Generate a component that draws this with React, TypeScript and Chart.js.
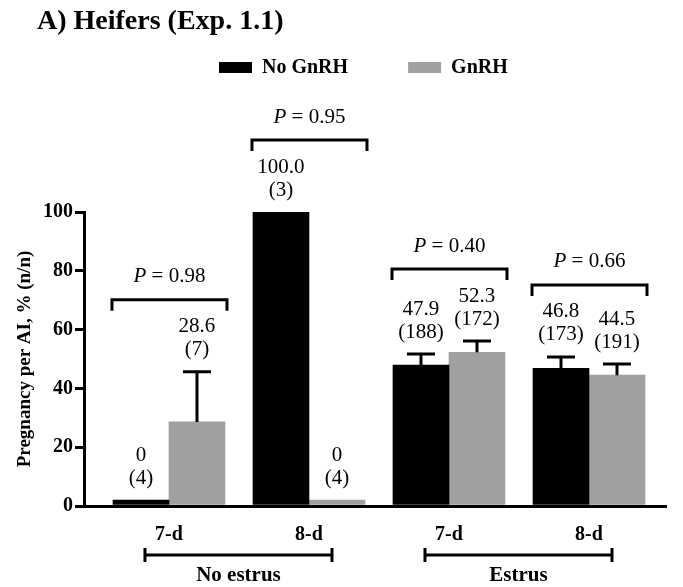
import React, { useEffect, useRef } from 'react';
import { Chart, registerables } from 'chart.js';

Chart.register(...registerables);

const TITLE = 'A) Heifers (Exp. 1.1)';
const Y_TITLE = 'Pregnancy per AI, % (n/n)';
const CATEGORIES = ['7-d', '8-d', '7-d', '8-d'];
const GROUPS = ['No estrus', 'Estrus'];
const GROUP_RANGES = [[0, 1], [2, 3]];
const SERIES = ['No GnRH', 'GnRH'];
const NO_GNRH = [0, 100, 47.9, 46.8];
const GNRH = [28.6, 0, 52.3, 44.5];
const NO_GNRH_SE = [0, 0, 3.8, 3.9];
const GNRH_SE = [17.1, 0, 3.8, 3.8];
const NO_GNRH_N = [4, 3, 188, 173];
const GNRH_N = [7, 4, 172, 191];
const P_VALUES = ['0.98', '0.95', '0.40', '0.66'];
const Y_TICKS = [0, 20, 40, 60, 80, 100];

const COLORS = ['#000000', '#a0a0a0'];
const SERIF = '"Liberation Serif", "Times New Roman", serif';

const annotPlugin = {
  id: 'annot',
  afterDatasetsDraw(chart: any) {
    const ctx = chart.ctx;
    const ys = chart.scales.y;
    const xs = chart.scales.x;
    const vals = [NO_GNRH, GNRH];
    const errs = [NO_GNRH_SE, GNRH_SE];
    const ns = [NO_GNRH_N, GNRH_N];
    const tops: number[][] = [[], []];
    ctx.save();
    ctx.strokeStyle = '#000';
    ctx.fillStyle = '#000';
    ctx.lineWidth = 3;
    ctx.lineCap = 'butt';
    ctx.lineJoin = 'miter';
    // error bars + value labels
    for (let di = 0; di < 2; di++) {
      const meta = chart.getDatasetMeta(di);
      meta.data.forEach((el: any, i: number) => {
        const v = vals[di][i];
        const e = errs[di][i];
        let top = el.y;
        if (e > 0) {
          const ey = ys.getPixelForValue(v + e);
          ctx.beginPath();
          ctx.moveTo(el.x, el.y);
          ctx.lineTo(el.x, ey);
          ctx.moveTo(el.x - el.width / 4, ey);
          ctx.lineTo(el.x + el.width / 4, ey);
          ctx.stroke();
          top = ey;
        }
        tops[di][i] = top;
        ctx.font = `21px ${SERIF}`;
        ctx.textAlign = 'center';
        ctx.textBaseline = 'middle';
        ctx.fillText(v === 0 ? '0' : v.toFixed(1), el.x, top - 45);
        ctx.fillText(`(${ns[di][i]})`, el.x, top - 22);
      });
    }
    // P-value brackets
    const m0 = chart.getDatasetMeta(0);
    const m1 = chart.getDatasetMeta(1);
    P_VALUES.forEach((p, i) => {
      const a = m0.data[i];
      const b = m1.data[i];
      const left = a.x - a.width / 2 - 1;
      const right = b.x + b.width / 2 + 2;
      const by = Math.min(tops[0][i], tops[1][i]) - 72;
      ctx.beginPath();
      ctx.moveTo(left, by + 11);
      ctx.lineTo(left, by);
      ctx.lineTo(right, by);
      ctx.lineTo(right, by + 11);
      ctx.stroke();
      const cx = (left + right) / 2;
      ctx.textBaseline = 'middle';
      ctx.textAlign = 'left';
      ctx.font = `italic 21px ${SERIF}`;
      const wP = ctx.measureText('P').width;
      ctx.font = `21px ${SERIF}`;
      const rest = ` = ${p}`;
      const wR = ctx.measureText(rest).width;
      const sx = cx - (wP + wR) / 2;
      ctx.font = `italic 21px ${SERIF}`;
      ctx.fillText('P', sx, by - 23);
      ctx.font = `21px ${SERIF}`;
      ctx.fillText(rest, sx + wP, by - 23);
    });
    // group brackets under the x axis
    const gy = chart.chartArea.bottom + 49;
    GROUPS.forEach((g, gi) => {
      const [s, e] = GROUP_RANGES[gi];
      const x0 = xs.getPixelForValue(s) - 24;
      const x1 = xs.getPixelForValue(e) + 23;
      ctx.beginPath();
      ctx.moveTo(x0, gy);
      ctx.lineTo(x1, gy);
      ctx.moveTo(x0, gy - 7);
      ctx.lineTo(x0, gy + 7);
      ctx.moveTo(x1, gy - 7);
      ctx.lineTo(x1, gy + 7);
      ctx.stroke();
      ctx.font = `bold 21px ${SERIF}`;
      ctx.textAlign = 'center';
      ctx.textBaseline = 'middle';
      ctx.fillText(g, (x0 + x1) / 2, gy + 21);
    });
    // title
    ctx.font = `bold 28px ${SERIF}`;
    ctx.textAlign = 'left';
    ctx.textBaseline = 'middle';
    ctx.fillText(TITLE, 37, 22);
    // legend
    let lx = 219;
    const ly = 68;
    chart.data.datasets.forEach((ds: any) => {
      ctx.fillStyle = ds.backgroundColor;
      ctx.fillRect(lx, ly - 6, 33, 11);
      ctx.fillStyle = '#000';
      ctx.font = `bold 20px ${SERIF}`;
      ctx.textAlign = 'left';
      ctx.textBaseline = 'middle';
      ctx.fillText(ds.label, lx + 43, ly);
      lx += 43 + ctx.measureText(ds.label).width + 60;
    });
    ctx.restore();
  },
};

export default function App() {
  const ref = useRef<HTMLCanvasElement | null>(null);
  useEffect(() => {
    if (!ref.current) return;
    const chart = new Chart(ref.current, {
      type: 'bar',
      data: {
        datasets: [
          {
            label: SERIES[0],
            data: CATEGORIES.map((_, i) => ({ x: i, y: NO_GNRH[i] })),
            backgroundColor: COLORS[0],
            barThickness: 56,
            minBarLength: 6,
          },
          {
            label: SERIES[1],
            data: CATEGORIES.map((_, i) => ({ x: i, y: GNRH[i] })),
            backgroundColor: COLORS[1],
            barThickness: 56,
            minBarLength: 6,
          },
        ],
      },
      options: {
        responsive: false,
        animation: false,
        devicePixelRatio: 1,
        layout: { padding: { top: 212, right: 17, left: 0, bottom: 0 } },
        plugins: {
          legend: { display: false },
          tooltip: { enabled: false },
          title: { display: false },
        },
        scales: {
          x: {
            type: 'linear',
            position: 'bottom',
            min: -0.607,
            max: 3.55,
            offset: false,
            grid: { display: false },
            border: { display: true, color: '#000', width: 3, z: 1 },
            ticks: {
              stepSize: 1,
              includeBounds: false,
              maxRotation: 0,
              autoSkip: false,
              padding: 9,
              color: '#000',
              font: { family: SERIF, size: 20, weight: 'bold' },
              callback: (v: any) => (Number.isInteger(v) && CATEGORIES[v] !== undefined ? CATEGORIES[v] : ''),
            },
            afterFit: (s: any) => {
              s.height = 81;
            },
          },
          y: {
            min: 0,
            max: 100,
            grid: { display: true, drawOnChartArea: false, drawTicks: true, tickLength: 9, lineWidth: 3, color: '#000' },
            border: { display: true, color: '#000', width: 3, z: 1 },
            ticks: {
              stepSize: 20,
              padding: 2,
              color: '#000',
              font: { family: SERIF, size: 20, weight: 'bold' },
            },
            afterBuildTicks: (s: any) => {
              s.ticks = Y_TICKS.map((v) => ({ value: v }));
            },
            title: {
              display: true,
              text: Y_TITLE,
              color: '#000',
              font: { family: SERIF, size: 19, weight: 'bold' },
              padding: { top: 14, bottom: 0 },
            },
            afterFit: (s: any) => {
              s.width = 84;
            },
          },
        },
      } as any,
      plugins: [annotPlugin],
    });
    return () => chart.destroy();
  }, []);
  return (
    <div style={{ position: 'absolute', left: 0, top: 0, width: 683, height: 587, background: '#fff' }}>
      <canvas ref={ref} width={683} height={587} style={{ display: 'block' }} />
    </div>
  );
}
